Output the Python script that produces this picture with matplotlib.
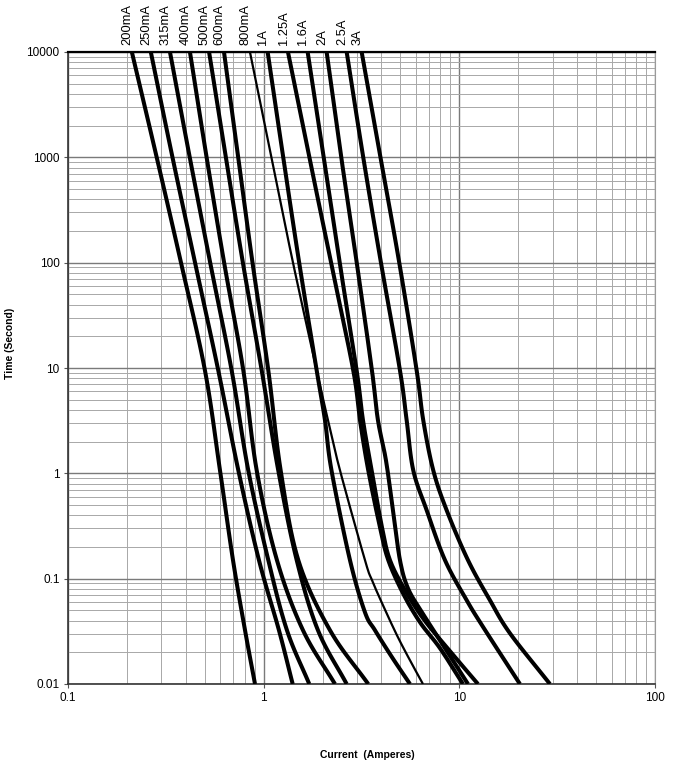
import numpy as np
import matplotlib
matplotlib.use("Agg")
import matplotlib.pyplot as plt
from matplotlib.ticker import FixedLocator, LogLocator, NullFormatter, FixedFormatter

# ---- data ----
labels = ["200mA", "250mA", "315mA", "400mA", "500mA", "600mA", "800mA",
          "1A", "1.25A", "1.6A", "2A", "2.5A", "3A"]

i_200mA = [0.212, 0.284, 0.378, 0.501, 0.598, 0.697, 0.803, 0.903]
t_200mA = [10000, 1000, 100, 9.5, 1.07, 0.15, 0.0324, 0.01]

i_250mA = [0.265, 0.342, 0.446, 0.586, 0.742, 0.946, 1.197, 1.407]
t_250mA = [10000, 1000, 100, 9.5, 1.07, 0.15, 0.0324, 0.01]

i_315mA = [0.332, 0.419, 0.533, 0.686, 0.834, 1.056, 1.315, 1.710]
t_315mA = [10000, 1000, 100, 9.5, 1.07, 0.15, 0.0324, 0.01]

i_400mA = [0.420, 0.511, 0.628, 0.787, 0.921, 1.169, 1.588, 2.314]
t_400mA = [10000, 1000, 100, 9.5, 1.07, 0.15, 0.0324, 0.01]

i_500mA = [0.526, 0.641, 0.783, 0.977, 1.187, 1.475, 1.894, 2.656]
t_500mA = [10000, 1000, 100, 9.5, 1.07, 0.15, 0.0324, 0.01]

i_600mA = [0.627, 0.741, 0.877, 1.056, 1.221, 1.503, 2.182, 3.423]
t_600mA = [10000, 1000, 100, 9.5, 1.07, 0.15, 0.0324, 0.01]

i_800mA = [0.851, 1.095, 1.412, 1.866, 2.131, 2.454, 3.293, 3.576, 4.070, 4.800, 5.593, 6.516]
t_800mA = [10000, 1000, 100, 9.5, 3.2, 1.07, 0.15, 0.097, 0.056, 0.029, 0.0168, 0.01]

i_1A = [1.048, 1.259, 1.519, 1.866, 2.057, 2.221, 2.761, 3.293, 3.705, 4.524, 5.593]
t_1A = [10000, 1000, 100, 9.5, 3.2, 1.07, 0.15, 0.048, 0.0324, 0.018, 0.01]

i_1_25A = [1.331, 1.712, 2.210, 2.870, 3.105, 3.423, 3.929, 4.333, 5.150, 6.291, 7.960, 10.43]
t_1_25A = [10000, 1000, 100, 9.5, 3.2, 1.07, 0.308, 0.15, 0.0728, 0.0386, 0.0219, 0.01]

i_1_6A = [1.678, 2.026, 2.446, 2.987, 3.217, 3.564, 4.023, 4.420, 5.272, 6.516, 8.445, 12.45]
t_1_6A = [10000, 1000, 100, 9.5, 3.2, 1.07, 0.308, 0.15, 0.078, 0.0422, 0.0233, 0.01]

i_2A = [2.098, 2.492, 2.990, 3.576, 3.837, 4.217, 4.579, 4.972, 5.463, 6.440, 7.960, 11.07]
t_2A = [10000, 1000, 100, 9.5, 3.2, 1.33, 0.447, 0.15, 0.081, 0.048, 0.026, 0.01]

i_2_5A = [2.656, 3.228, 3.976, 4.972, 5.379, 5.814, 6.807, 8.445, 10.90, 13.25, 20.40]
t_2_5A = [10000, 1000, 100, 9.5, 3.2, 1.07, 0.447, 0.15, 0.0625, 0.0346, 0.01]

i_3A = [3.168, 3.953, 4.931, 6.051, 6.539, 7.356, 8.611, 11.07, 14.33, 18.14, 29.04]
t_3A = [10000, 1000, 100, 9.5, 3.2, 1.07, 0.447, 0.15, 0.0625, 0.0303, 0.01]

x_ticks = [0.1, 1, 10, 100]
x_tick_labels = ["0.1", "1", "10", "100"]
y_ticks = [0.01, 0.1, 1, 10, 100, 1000, 10000]
y_tick_labels = ["0.01", "0.1", "1", "10", "100", "1000", "10000"]

currents = [i_200mA, i_250mA, i_315mA, i_400mA, i_500mA, i_600mA, i_800mA,
            i_1A, i_1_25A, i_1_6A, i_2A, i_2_5A, i_3A]
times = [t_200mA, t_250mA, t_315mA, t_400mA, t_500mA, t_600mA, t_800mA,
         t_1A, t_1_25A, t_1_6A, t_2A, t_2_5A, t_3A]


def smooth_path(xs, ys, n=12):
    """Catmull-Rom rendering of the read points in log-log space (drawing only)."""
    lx = np.log10(np.asarray(xs, float))
    ly = np.log10(np.asarray(ys, float))
    P = np.column_stack([lx, ly])
    P = np.vstack([2 * P[0] - P[1], P, 2 * P[-1] - P[-2]])
    out = []
    for k in range(1, len(P) - 2):
        p0, p1, p2, p3 = P[k - 1], P[k], P[k + 1], P[k + 2]
        s = np.linspace(0, 1, n, endpoint=False)[:, None]
        seg = 0.5 * ((2 * p1) + (-p0 + p2) * s + (2 * p0 - 5 * p1 + 4 * p2 - p3) * s ** 2
                     + (-p0 + 3 * p1 - 3 * p2 + p3) * s ** 3)
        out.append(seg)
    out.append(P[-2][None, :])
    out = np.vstack(out)
    return 10 ** out[:, 0], 10 ** out[:, 1]


# ---- figure ----
plt.rcParams['font.family'] = ['Liberation Sans', 'DejaVu Sans']
fig = plt.figure(figsize=(6.82, 7.63), dpi=100)
ax = fig.add_axes([68/682, 1-684/763, (655-68)/682, (684-52)/763])
ax.set_xscale('log')
ax.set_yscale('log')
ax.set_xlim(0.1, 100)
ax.set_ylim(0.01, 10000)

ax.xaxis.set_major_locator(FixedLocator(x_ticks))
ax.yaxis.set_major_locator(FixedLocator(y_ticks))
ax.xaxis.set_major_formatter(FixedFormatter(x_tick_labels))
ax.yaxis.set_major_formatter(FixedFormatter(y_tick_labels))
ax.xaxis.set_minor_locator(LogLocator(base=10, subs=range(2, 10), numticks=20))
ax.yaxis.set_minor_locator(LogLocator(base=10, subs=range(2, 10), numticks=20))
ax.xaxis.set_minor_formatter(NullFormatter())
ax.yaxis.set_minor_formatter(NullFormatter())
ax.grid(which='major', color='#7a7a7a', lw=1.0)
ax.grid(which='minor', color='#a8a8a8', lw=0.7)
ax.set_axisbelow(True)
ax.tick_params(which='minor', length=0)
ax.tick_params(which='major', length=3, width=0.8, direction='out',
               labelsize=8.5, pad=3, color='#555555')

for side in ['left', 'bottom']:
    ax.spines[side].set_color('#333333')
    ax.spines[side].set_linewidth(1.2)
ax.spines['top'].set_color('black')
ax.spines['top'].set_linewidth(1.6)
ax.spines['right'].set_color('#9a9a9a')
ax.spines['right'].set_linewidth(0.8)

for lab, xs, ys in zip(labels, currents, times):
    lw = 1.6 if lab == "800mA" else 2.9
    sx, sy = smooth_path(xs, ys)
    ax.plot(sx, sy, color='black', lw=lw, solid_joinstyle='round',
            solid_capstyle='butt', zorder=3)
    ax.annotate(lab, xy=(xs[0], 10000), xycoords='data',
                xytext=(-3, 5), textcoords='offset points',
                rotation=90, ha='center', va='bottom', fontsize=9.3,
                annotation_clip=False)

fig.text(10/682, 1-343/763, "Time (Second)", rotation=90, ha='center', va='center',
         fontsize=7.5, fontweight='bold')
fig.text(367/682, 1-755/763, "Current  (Amperes)", ha='center', va='center',
         fontsize=7.5, fontweight='bold')

fig.savefig("out.png", dpi=100)
